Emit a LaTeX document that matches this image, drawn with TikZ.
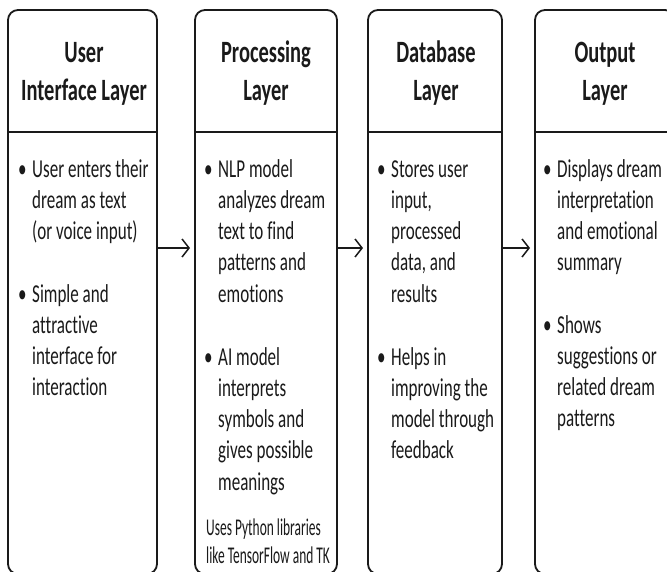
\documentclass[tikz,border=0pt]{standalone}
\usepackage{fontspec}
\setmainfont[FakeStretch=0.66, Ligatures=NoCommon]{Carlito}
\newfontfamily\notefont[FakeStretch=0.56, Ligatures=NoCommon]{Carlito}
\usetikzlibrary{arrows.meta}
\definecolor{ink}{HTML}{1A1A1A}
\newcommand\bodyfont{\fontsize{25.8}{31.3}\selectfont}
\newcommand\layerpoint[1]{\parbox[t]{170pt}{\bodyfont\hangindent=14pt\hangafter=1\noindent\makebox[14pt][l]{•}#1}}
\newcommand\layerhead[1]{\parbox[t]{170pt}{\centering\fontsize{31}{38}\selectfont\bfseries #1}}
\tikzset{
  layerbox/.style={draw=ink, line width=1.8pt, rounded corners=10pt, anchor=north west,
    inner sep=0pt, outer sep=0pt, minimum height=564pt},
  txt/.style={anchor=base west, inner sep=0pt, text=ink},
  head/.style={anchor=base, inner sep=0pt, text=ink},
  sepline/.style={draw=ink, line width=1.8pt},
  flow/.style={draw=ink, line width=1.5pt, -{Straight Barb[length=7pt, width=18pt]}, shorten >=5pt},
}
\begin{document}
\begin{tikzpicture}[x=1pt, y=-1pt]
\useasboundingbox (0,0) rectangle (667,571);
\fill[white] (0,0) rectangle (667,571);
% boxes
\node[layerbox, minimum width=149pt] (b1) at (8,10) {};
\node[layerbox, minimum width=142pt] (b2) at (195,10) {};
\node[layerbox, minimum width=134pt] (b3) at (368,10) {};
\node[layerbox, minimum width=140pt] (b4) at (535,10) {};
% helper coordinates
\coordinate (sy) at (0,132);
\coordinate (ay) at (0,248);
% separators
\draw[sepline] (b1.west |- sy) -- (b1.east |- sy);
\draw[sepline] (b2.west |- sy) -- (b2.east |- sy);
\draw[sepline] (b3.west |- sy) -- (b3.east |- sy);
\draw[sepline] (b4.west |- sy) -- (b4.east |- sy);
% headers
\node[head] (h1) at (84,62) {\layerhead{User\\Interface Layer}};
\node[head] (h2) at (266,62) {\layerhead{Processing\\Layer}};
\node[head] (h3) at (436,62) {\layerhead{Database\\Layer}};
\node[head] (h4) at (605,62) {\layerhead{Output\\Layer}};
% column 1
\node[txt] (p11) at (18,177) {\layerpoint{User enters their\\dream as text\\(or voice input)}};
\node[txt] (p12) at (18,302) {\layerpoint{Simple and\\attractive\\interface for\\interaction}};
% column 2
\node[txt] (p21) at (204,177) {\layerpoint{NLP model\\analyzes dream\\text to find\\patterns and\\emotions}};
\node[txt] (p22) at (204,365) {\layerpoint{AI model\\interprets\\symbols and\\gives possible\\meanings}};
\node[txt] (n2) at (206,535) {\parbox[t]{170pt}{\notefont\fontsize{24}{28}\selectfont Uses Python libraries\\like TensorFlow and TK}};
% column 3
\node[txt] (p31) at (377,177) {\layerpoint{Stores user\\input,\\processed\\data, and\\results}};
\node[txt] (p32) at (377,365) {\layerpoint{Helps in\\improving the\\model through\\feedback}};
% column 4
\node[txt] (p41) at (543,177) {\layerpoint{Displays dream\\interpretation\\and emotional\\summary}};
\node[txt] (p42) at (543,333) {\layerpoint{Shows\\suggestions or\\related dream\\patterns}};
% arrows
\draw[flow] (b1.east |- ay) -- (b2.west |- ay);
\draw[flow] (b2.east |- ay) -- (b3.west |- ay);
\draw[flow] (b3.east |- ay) -- (b4.west |- ay);
\end{tikzpicture}
\end{document}
